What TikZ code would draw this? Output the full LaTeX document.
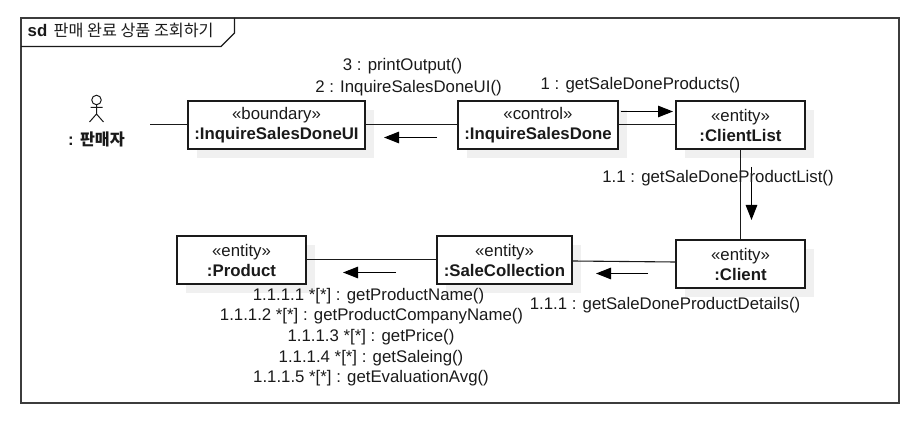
\documentclass[tikz,border=0pt]{standalone}
\usepackage{fontspec}
\setmainfont{Liberation Sans}
\newfontfamily\cjk{Noto Sans CJK KR}
\usetikzlibrary{arrows.meta,shadows}
\definecolor{inkc}{HTML}{1A1A1A}
\tikzset{
  lbl/.style={font=\fontsize{16.8}{20}\selectfont,text=inkc,inner sep=0pt,anchor=center},
  obj/.style={draw=inkc,fill=white,line width=1.3pt,minimum height=48pt,inner sep=0pt,align=center,
    font=\fontsize{16.8}{20}\selectfont,text=inkc,
    general shadow={fill=black!6,shadow xshift=9pt,shadow yshift=-9pt}},
  link/.style={draw=inkc,line width=1.1pt},
  msg/.style={draw=black,line width=1.1pt,-{Triangle[length=15pt,width=11.5pt]}},
  fr/.style={draw=inkc!85,line width=1.5pt,line join=miter},
}
\begin{document}
\begin{tikzpicture}[x=1pt,y=-1pt]
\path[use as bounding box] (0,0) rectangle (918,427);
% frame
\draw[fr] (21,18) rectangle (899,403);
\draw[draw=inkc,line width=1.1pt] (21,46.5) -- (221,46.5) -- (234.5,33) -- (234.5,18);
\node[lbl,anchor=base west] (sd) at (27.5,36.5) {\textbf{sd}};
\node[lbl,anchor=base west,font=\fontsize{16.2}{20}\selectfont] (title) at (53.5,36.5) {\cjk 판매 완료 상품 조회하기};
% objects
\node[obj,minimum width=177pt] (ui) at (276.5,125) {«boundary»\\\textbf{:InquireSalesDoneUI}};
\node[obj,minimum width=160pt] (done) at (538,125) {«control»\\\textbf{:InquireSalesDone}};
\node[obj,minimum width=129pt] (clist) at (740.5,125) {«entity»\\\textbf{:ClientList}};
\node[obj,minimum width=129pt] (client) at (740.5,264) {«entity»\\\textbf{:Client}};
\node[obj,minimum width=135pt] (sale) at (504.5,260) {«entity»\\\textbf{:SaleCollection}};
\node[obj,minimum width=129pt] (prod) at (241.5,260) {«entity»\\\textbf{:Product}};
% actor
\node[circle,draw=inkc,line width=1pt,minimum size=9.5pt,inner sep=0pt] (head) at (96.5,100) {};
\coordinate (hip) at (96.5,114);
\coordinate (armL) at (90.5,107.5);
\coordinate (armR) at (102.5,107.5);
\coordinate (legL) at (89.5,122);
\coordinate (legR) at (103.5,122);
\draw[draw=inkc,line width=1pt] (head.south) -- (hip) (armL) -- (armR) (legL) -- (hip) -- (legR);
\node[lbl,font=\fontsize{16.8}{20}\selectfont\bfseries] (actor) at (96.5,139) {: {\cjk\bfseries\fontsize{16.2}{20}\selectfont 판매자}};
\coordinate (actend) at (150,124.5);
% links
\draw[link] (actend) -- ([yshift=0.5pt]ui.west);
\draw[link] ([yshift=0.5pt]ui.east) -- ([yshift=0.5pt]done.west);
\draw[link] ([yshift=0.5pt]done.east) -- ([yshift=0.5pt]clist.west);
\draw[link] (clist) -- (client);
\draw[link] ([yshift=-1pt]sale.east) -- ([yshift=2pt]client.west);
\draw[link] ([yshift=0.5pt]sale.west) -- ([yshift=0.5pt]prod.east);
% message arrows
\coordinate (m2s) at (437,137.5); \coordinate (m2e) at (384,137.5);
\coordinate (m1s) at (620.5,111.5); \coordinate (m1e) at (673,111.5);
\coordinate (m3s) at (751.5,167); \coordinate (m3e) at (751.5,220);
\coordinate (m4s) at (648,273.5); \coordinate (m4e) at (596,273.5);
\coordinate (m5s) at (396,272.5); \coordinate (m5e) at (343,272.5);
\draw[msg] (m2s) -- (m2e);
\draw[msg] (m1s) -- (m1e);
\draw[msg] (m3s) -- (m3e);
\draw[msg] (m4s) -- (m4e);
\draw[msg] (m5s) -- (m5e);
% labels
\node[lbl] (l3) at (402.5,66.5) {3 : printOutput()};
\node[lbl] (l2) at (408.5,88.5) {2 : InquireSalesDoneUI()};
\node[lbl] (l1) at (640.5,85) {1 : getSaleDoneProducts()};
\node[lbl] (l11) at (718,178) {1.1 : getSaleDoneProductList()};
\node[lbl] (l111) at (665,305) {1.1.1 : getSaleDoneProductDetails()};
\node[lbl] (a1) at (368.5,296) {1.1.1.1 *[*] : getProductName()};
\node[lbl] (a2) at (371.5,316) {1.1.1.2 *[*] : getProductCompanyName()};
\node[lbl] (a3) at (371,337) {1.1.1.3 *[*] : getPrice()};
\node[lbl] (a4) at (371,358) {1.1.1.4 *[*] : getSaleing()};
\node[lbl] (a5) at (371,378) {1.1.1.5 *[*] : getEvaluationAvg()};
\end{tikzpicture}
\end{document}
